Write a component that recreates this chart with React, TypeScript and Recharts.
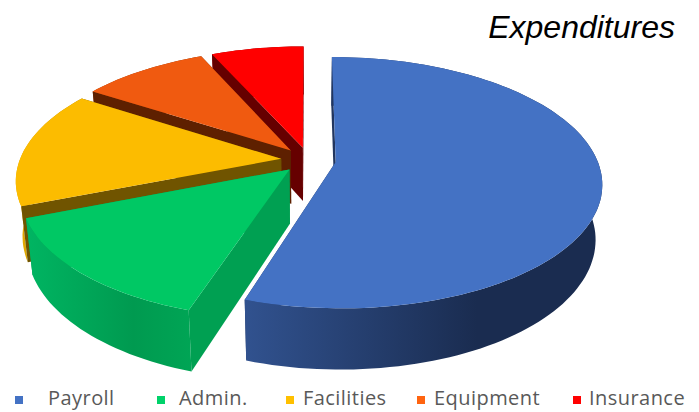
import { PieChart, Pie, Legend } from 'recharts'

const LABELS = ['Payroll', 'Admin.', 'Facilities', 'Equipment', 'Insurance']
const VALUES = [55.0, 14.0, 15.1, 9.2, 6.7]

const TOP_COLORS = ['#4472C4', '#00C864', '#FCBC00', '#F05A10', '#FF0000']
const KEY_COLORS = ['#4472C4', '#00D26A', '#FFC000', '#FF6410', '#FF0000']
const CUT_COLORS = ['#22365F', '#00A052', '#705400', '#5E2000', '#660000']
const WALL_LEFT = ['#31528F', '#00B562', '#E8AE00', '#A03A08', '#A00000']
const WALL_MID = ['#1A2C50', '#009A50', '#C09000', '#8A3206', '#800000']
const WALL_RIGHT = ['#1A2C50', '#00A555', '#A07800', '#7A2C06', '#700000']

const KEY_X = [15, 157, 286, 417, 573]
const TEXT_X = [48, 179, 303, 434, 589]

// painter's order: the slices at the back have to go down first
const table = LABELS.map((name, i) => ({ name, value: VALUES[i], idx: i })).reverse()

const TILT = 0.465
const PERSPECTIVE = 0.164
const EXPLODE = 0.105
const BASE_DROP = 53.8

function Slice3D(props: any) {
  const { cx, cy, outerRadius, startAngle, endAngle, payload } = props
  const idx = payload?.idx ?? props.idx
  const R = outerRadius
  const S = R * TILT
  const t0 = ((90 - startAngle) * Math.PI) / 180
  const t1 = ((90 - endAngle) * Math.PI) / 180
  const mid = (t0 + t1) / 2
  const ex = EXPLODE * Math.sin(mid)
  const ey = EXPLODE * Math.cos(mid)

  const top = (t: number, r: number) => {
    const u = ex + r * Math.sin(t)
    const v = ey + r * Math.cos(t)
    const w = 1 + PERSPECTIVE * v
    return [cx + (R * u) / w, cy - (S * v) / w]
  }
  const base = ([x, y]: number[]) => [cx + 0.977 * (x - cx), y + BASE_DROP + 0.05 * (y - cy)]

  const steps = Math.max(2, Math.ceil(Math.abs(t1 - t0) / 0.03))
  const arc: number[][] = []
  for (let i = 0; i <= steps; i++) arc.push(top(t0 + ((t1 - t0) * i) / steps, 1))
  const apex = top(0, 0)
  const inside = top(mid, 0.5)

  const path = (pts: number[][]) =>
    'M' + pts.map((p) => `${p[0].toFixed(1)},${p[1].toFixed(1)}`).join('L') + 'Z'
  const gid = `wall-${idx}`

  // a cut face shows only when "down" leads away from the slice's own top
  const faces = [arc[0], arc[arc.length - 1]].map((end) => {
    const ax = end[0] - apex[0]
    const ay = end[1] - apex[1]
    const sideInside = ax * (inside[1] - apex[1]) - ay * (inside[0] - apex[0])
    return {
      shows: sideInside * ax < 0,
      d: path([apex, end, base(end), base(apex)]),
    }
  })

  return (
    <g>
      <defs>
        <linearGradient id={gid} x1="0" y1="0" x2="1" y2="0">
          <stop offset="0%" stopColor={WALL_LEFT[idx]} />
          <stop offset="65%" stopColor={WALL_MID[idx]} />
          <stop offset="100%" stopColor={WALL_RIGHT[idx]} />
        </linearGradient>
      </defs>
      {faces.filter((f) => !f.shows).map((f) => <path key={f.d} d={f.d} fill={CUT_COLORS[idx]} />)}
      <path d={path([...arc, ...arc.map(base).reverse()])} fill={`url(#${gid})`} />
      {faces.filter((f) => f.shows).map((f) => <path key={f.d} d={f.d} fill={CUT_COLORS[idx]} />)}
      <path d={path([apex, ...arc])} fill={TOP_COLORS[idx]} />
    </g>
  )
}

function KeyRow() {
  return (
    <div style={{ position: 'absolute', left: 0, top: 0, width: 699, height: 412 }}>
      {LABELS.map((name, i) => (
        <span key={name}>
          <span
            style={{
              position: 'absolute',
              left: KEY_X[i],
              top: 396,
              width: 8,
              height: 8,
              background: KEY_COLORS[i],
            }}
          />
          <span
            style={{
              position: 'absolute',
              left: TEXT_X[i],
              top: 385,
              fontFamily: '"Open Sans", sans-serif',
              fontSize: 20,
              lineHeight: '26px',
              color: '#595959',
              letterSpacing: 0.45,
              whiteSpace: 'nowrap',
            }}
          >
            {name}
          </span>
        </span>
      ))}
    </div>
  )
}

export default function App() {
  return (
    <div style={{ position: 'absolute', left: 0, top: 0, width: 699, height: 412, background: '#fff' }}>
      <PieChart width={699} height={412} margin={{ top: 0, right: 0, bottom: 0, left: 0 }}>
        <Pie
          data={table}
          dataKey="value"
          nameKey="name"
          cx={308.5}
          cy={160}
          innerRadius={0}
          outerRadius={261.5}
          startAngle={90}
          endAngle={450}
          stroke="none"
          shape={Slice3D}
          isAnimationActive={false}
        />
        <Legend content={() => <KeyRow />} wrapperStyle={{ left: 0, top: 0, bottom: 'auto', width: 699 }} />
      </PieChart>
      <div
        style={{
          position: 'absolute',
          right: 24,
          top: 8,
          fontFamily: '"Liberation Sans", Arial, sans-serif',
          fontStyle: 'italic',
          fontSize: 32,
          lineHeight: '38px',
          color: '#000',
        }}
      >
        Expenditures
      </div>
    </div>
  )
}
